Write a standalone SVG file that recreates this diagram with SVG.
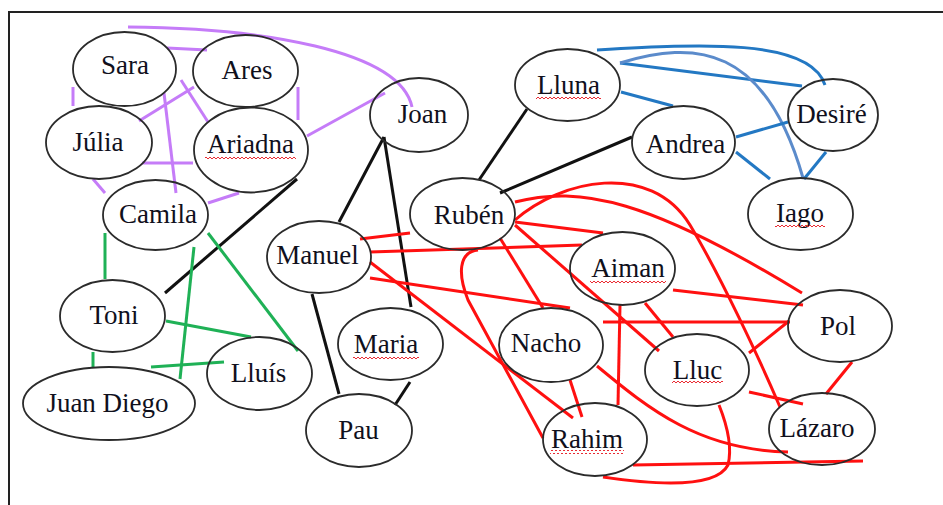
<svg xmlns="http://www.w3.org/2000/svg" width="943" height="505" viewBox="0 0 943 505">
<defs>
<style>
.n ellipse{fill:none;stroke:#2b2b2b;stroke-width:1.8}
.n text{font-family:"Liberation Serif","Times New Roman",serif;font-size:27px;fill:#10101c;text-anchor:middle}
.c path,.c line{fill:none;stroke-width:3;stroke-linecap:butt}
.p{stroke:#c57cf8}
.k{stroke:#111}
.g{stroke:#1fb156}
.b{stroke:#2378c3}
.lb{stroke:#5b8bcb}
.r{stroke:#ff1010}
.sq{fill:url(#wave)}
</style>
<pattern id="wave" patternUnits="userSpaceOnUse" width="4" height="4">
<path d="M0,3 L2,1 L4,3" fill="none" stroke="#e8141c" stroke-width="0.9"/>
</pattern>
</defs>
<rect width="943" height="505" fill="#fff"/>
<path d="M9,505 V12 H943" fill="none" stroke="#222" stroke-width="2"/>

<g id="connectors" class="c">
<!-- purple -->
<path class="p" d="M128,27 C260,28 400,50 412,107"/>
<line class="p" x1="167" y1="48" x2="207" y2="50"/>
<line class="p" x1="73" y1="87" x2="73" y2="106"/>
<line class="p" x1="298" y1="87" x2="298" y2="120"/>
<line class="p" x1="139" y1="121" x2="194" y2="87"/>
<line class="p" x1="181" y1="80" x2="208" y2="122"/>
<line class="p" x1="164" y1="93" x2="176" y2="193"/>
<line class="p" x1="142" y1="163" x2="193" y2="163"/>
<line class="p" x1="93" y1="179" x2="105" y2="193"/>
<line class="p" x1="208" y1="203" x2="239" y2="193"/>
<line class="p" x1="307" y1="136" x2="385" y2="93"/>
<!-- black -->
<line class="k" x1="297" y1="179" x2="165" y2="293"/>
<line class="k" x1="384" y1="137" x2="339" y2="222"/>
<line class="k" x1="384" y1="137" x2="411" y2="307"/>
<line class="k" x1="312" y1="294" x2="339" y2="394"/>
<line class="k" x1="410" y1="382" x2="395" y2="405"/>
<line class="k" x1="527" y1="109" x2="479" y2="180"/>
<line class="k" x1="632" y1="137" x2="500" y2="193"/>
<!-- green -->
<line class="g" x1="105" y1="233" x2="105" y2="279"/>
<line class="g" x1="194" y1="247" x2="180" y2="379"/>
<line class="g" x1="208" y1="233" x2="298" y2="351"/>
<line class="g" x1="166" y1="321" x2="251" y2="337"/>
<line class="g" x1="93" y1="352" x2="93" y2="367"/>
<line class="g" x1="151" y1="367" x2="224" y2="362"/>
<!-- blue -->
<path class="b" d="M597,50 C700,44 810,38 825,85"/>
<line class="b" x1="620" y1="63" x2="802" y2="86"/>
<path class="lb" d="M620,63 C695,40 765,45 803,178"/>
<line class="b" x1="621" y1="92" x2="673" y2="106"/>
<line class="b" x1="736" y1="137" x2="788" y2="122"/>
<line class="b" x1="736" y1="152" x2="770" y2="179"/>
<line class="b" x1="826" y1="152" x2="804" y2="179"/>
<!-- red -->
<line class="r" x1="360" y1="239" x2="410" y2="233"/>
<line class="r" x1="370" y1="252" x2="582" y2="245"/>
<line class="r" x1="370" y1="278" x2="570" y2="308"/>
<line class="r" x1="370" y1="262" x2="573" y2="418"/>
<line class="r" x1="500" y1="238" x2="543" y2="308"/>
<line class="r" x1="515" y1="222" x2="603" y2="233"/>
<line class="r" x1="515" y1="225" x2="659" y2="351"/>
<path class="r" d="M515,202 C580,185 650,200 802,293"/>
<path class="r" d="M515,220 C560,180 650,160 690,225 C720,275 760,360 780,407"/>
<path class="r" d="M478,250 C458,252 458,275 468,300 L543,438"/>
<line class="r" x1="620" y1="305" x2="618" y2="405"/>
<line class="r" x1="603" y1="322" x2="790" y2="322"/>
<line class="r" x1="673" y1="290" x2="803" y2="305"/>
<line class="r" x1="645" y1="303" x2="673" y2="337"/>
<line class="r" x1="789" y1="321" x2="749" y2="353"/>
<line class="r" x1="749" y1="392" x2="803" y2="404"/>
<line class="r" x1="852" y1="362" x2="826" y2="394"/>
<line class="r" x1="570" y1="380" x2="582" y2="417"/>
<path class="r" d="M597,366 C650,410 700,450 788,452"/>
<line class="r" x1="633" y1="465" x2="863" y2="461"/>
<path class="r" d="M603,477 C650,484 715,490 728,465 C733,445 725,420 719,405"/>
</g>

<g id="sara" class="n"><ellipse cx="124.5" cy="69" rx="51.5" ry="37"/><text x="125" y="74">Sara</text></g>
<g id="ares" class="n"><ellipse cx="245.5" cy="71" rx="52.5" ry="36"/><text x="247" y="79">Ares</text></g>
<g id="julia" class="n"><ellipse cx="99" cy="142.5" rx="53" ry="36.5"/><text x="98" y="151">Júlia</text></g>
<g id="ariadna" class="n"><ellipse cx="251" cy="150" rx="57" ry="42.5"/><text x="250.5" y="153">Ariadna</text><rect class="sq" x="205" y="155" width="91" height="4"/></g>
<g id="camila" class="n"><ellipse cx="155.5" cy="215" rx="52.5" ry="35"/><text x="158" y="223">Camila</text></g>
<g id="toni" class="n"><ellipse cx="112.5" cy="316" rx="52.5" ry="36"/><text x="114" y="324">Toni</text></g>
<g id="juandiego" class="n"><ellipse cx="109" cy="403.5" rx="86" ry="36.5"/><text x="107.5" y="412">Juan Diego</text></g>
<g id="lluis" class="n"><ellipse cx="259.5" cy="373.5" rx="52.5" ry="36.5"/><text x="258.5" y="382">Lluís</text></g>
<g id="joan" class="n"><ellipse cx="419" cy="115" rx="49" ry="37"/><text x="422.5" y="123">Joan</text></g>
<g id="manuel" class="n"><ellipse cx="319" cy="257" rx="52" ry="36"/><text x="317.5" y="264">Manuel</text></g>
<g id="maria" class="n"><ellipse cx="390.5" cy="344" rx="52.5" ry="36"/><text x="386" y="353">Maria</text><rect class="sq" x="353" y="355" width="66" height="4"/></g>
<g id="pau" class="n"><ellipse cx="359" cy="430.5" rx="53" ry="36.5"/><text x="358.5" y="439">Pau</text></g>
<g id="lluna" class="n"><ellipse cx="567.5" cy="85" rx="52.5" ry="36"/><text x="568.5" y="94">Lluna</text><rect class="sq" x="536" y="96" width="65" height="4"/></g>
<g id="ruben" class="n"><ellipse cx="462.5" cy="214" rx="52.5" ry="36"/><text x="469" y="224">Rubén</text></g>
<g id="andrea" class="n"><ellipse cx="683.5" cy="142.5" rx="51.5" ry="36.5"/><text x="685.5" y="153">Andrea</text></g>
<g id="desire" class="n"><ellipse cx="833" cy="115" rx="45" ry="36"/><text x="831.5" y="123">Desiré</text></g>
<g id="iago" class="n"><ellipse cx="800.5" cy="214" rx="52.5" ry="36"/><text x="800" y="222">Iago</text><rect class="sq" x="775" y="224" width="50" height="4"/></g>
<g id="aiman" class="n"><ellipse cx="622.5" cy="268.5" rx="52.5" ry="36.5"/><text x="628" y="277">Aiman</text><rect class="sq" x="590" y="279" width="76" height="4"/></g>
<g id="nacho" class="n"><ellipse cx="551" cy="345" rx="52" ry="37"/><text x="546" y="352">Nacho</text></g>
<g id="rahim" class="n"><ellipse cx="595" cy="439.5" rx="52" ry="36.5"/><text x="587" y="448">Rahim</text><rect class="sq" x="550" y="450" width="74" height="4"/></g>
<g id="lluc" class="n"><ellipse cx="697" cy="370" rx="52" ry="36"/><text x="697.5" y="379">Lluc</text><rect class="sq" x="672" y="381" width="51" height="4"/></g>
<g id="pol" class="n"><ellipse cx="840" cy="326" rx="52" ry="36"/><text x="838" y="335">Pol</text></g>
<g id="lazaro" class="n"><ellipse cx="822" cy="429" rx="53" ry="36"/><text x="817" y="437">Lázaro</text></g>
</svg>
